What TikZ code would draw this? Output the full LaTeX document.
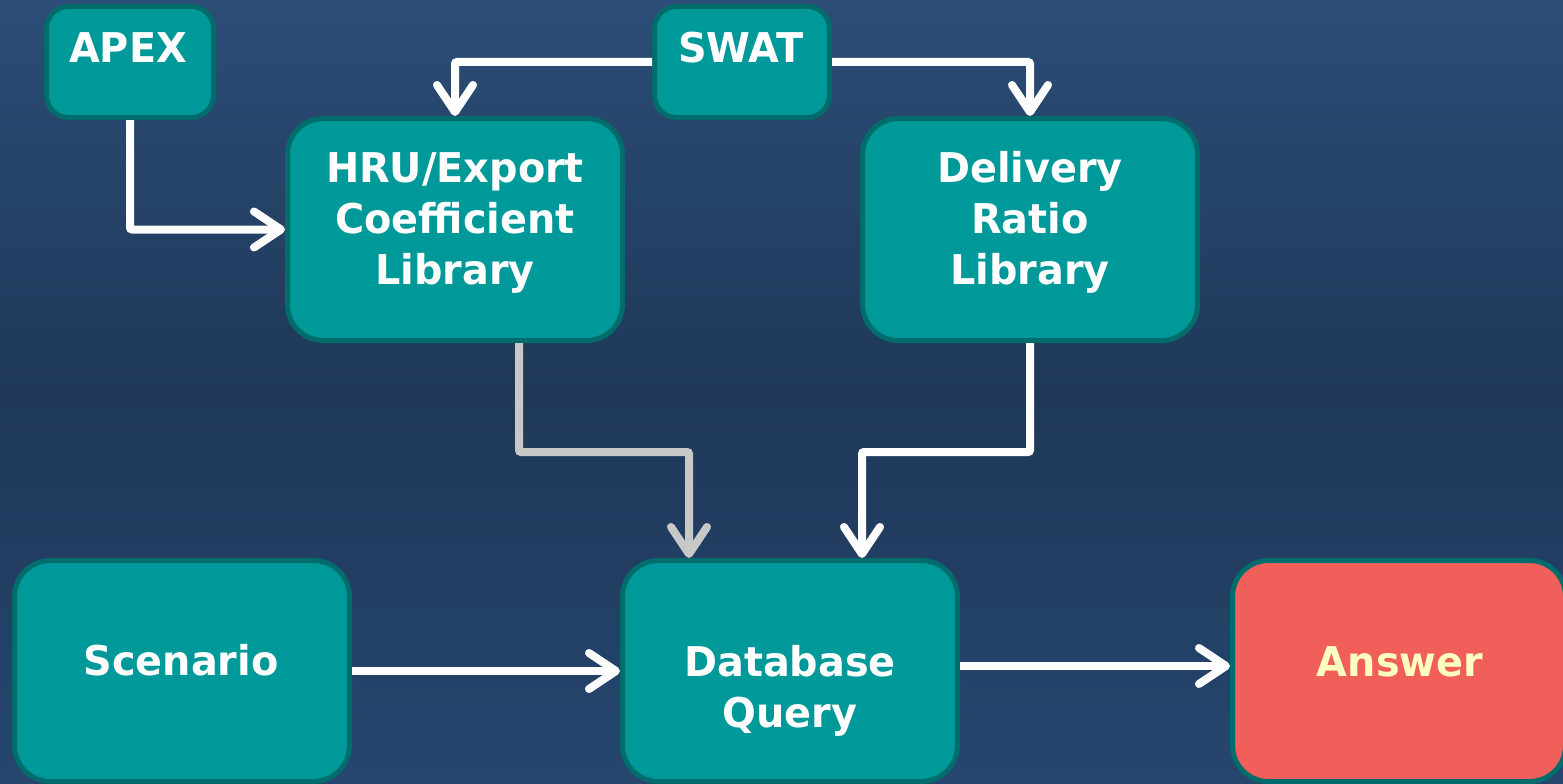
\documentclass[tikz,border=0pt]{standalone}
\usepackage{fontspec}
\newfontfamily\lblfont{DejaVu Sans}[FakeStretch=0.97]
\usetikzlibrary{arrows.meta}
\definecolor{bgtop}{HTML}{2C4D76}
\definecolor{bgmid}{HTML}{1F3859}
\definecolor{bgbot}{HTML}{26466E}
\definecolor{boxfill}{HTML}{009999}
\definecolor{boxline}{HTML}{006C6C}
\definecolor{ansfill}{HTML}{F05F59}
\definecolor{anstext}{HTML}{FFFFC0}
\definecolor{flowgray}{HTML}{C8C8C8}
\tikzset{
  box/.style={draw=boxline, fill=boxfill, line width=5pt, rectangle, rounded corners=36pt, inner sep=0pt},
  smallbox/.style={box, rounded corners=22pt},
  lbl/.style={text=white, font=\lblfont\bfseries\fontsize{41}{51}\selectfont, align=center, anchor=base, inner sep=0pt},
  flow/.style={draw=white, line width=8pt, rounded corners=2pt, -{Straight Barb[length=27pt,width=36pt,line width=8pt,round]}},
  grayflow/.style={flow, draw=flowgray}
}
\begin{document}
\begin{tikzpicture}[x=1pt,y=-1pt]
\shade[top color=bgtop, bottom color=bgbot, middle color=bgmid] (0,0) rectangle (1563,784);
\useasboundingbox (0,0) rectangle (1563,784);
% boxes
\node[smallbox, minimum width=167pt, minimum height=111pt] (apex) at (130,62) {};
\node[smallbox, minimum width=175pt, minimum height=111pt] (swat) at (742,62) {};
\node[box, minimum width=335pt, minimum height=222pt] (hru) at (455,229.5) {};
\node[box, minimum width=335pt, minimum height=222pt] (del) at (1030,229.5) {};
\node[box, minimum width=335pt, minimum height=221pt] (scen) at (182,671) {};
\node[box, minimum width=335pt, minimum height=221pt] (db) at (790,671) {};
\node[box, fill=ansfill, minimum width=333pt, minimum height=221pt] (ans) at (1399,671) {};
% labels
\node[lbl] (apext) at (128,63) {APEX};
\node[lbl] (swatt) at (741,63) {SWAT};
\node[lbl] (hrut) at (455,284) {HRU/Export\\Coefficient\\Library};
\node[lbl] (delt) at (1030,284) {Delivery\\Ratio\\Library};
\node[lbl] (scent) at (181,675) {Scenario};
\node[lbl] (dbt) at (790,727) {Database\\Query};
\node[lbl, text=anstext] (anst) at (1400,676) {Answer};
% connectors
\draw[flow] (swat.west) -| (hru.north);
\draw[flow] (swat.east) -| (del.north);
\draw[flow] (apex.south) |- (hru.west);
\coordinate (hruout) at ([xshift=64pt]hru.south);
\coordinate (dbinA) at ([xshift=-101pt]db.north);
\coordinate (dbinB) at ([xshift=72pt]db.north);
\draw[grayflow] (hruout) -- ++(0,109) -| (dbinA);
\draw[flow] (del.south) -- ++(0,109) -| (dbinB);
\draw[flow] (scen.east) -- (db.west);
\draw[flow] ([yshift=5pt]db.east) -- ([yshift=5pt]db.east -| ans.west);
\end{tikzpicture}
\end{document}
